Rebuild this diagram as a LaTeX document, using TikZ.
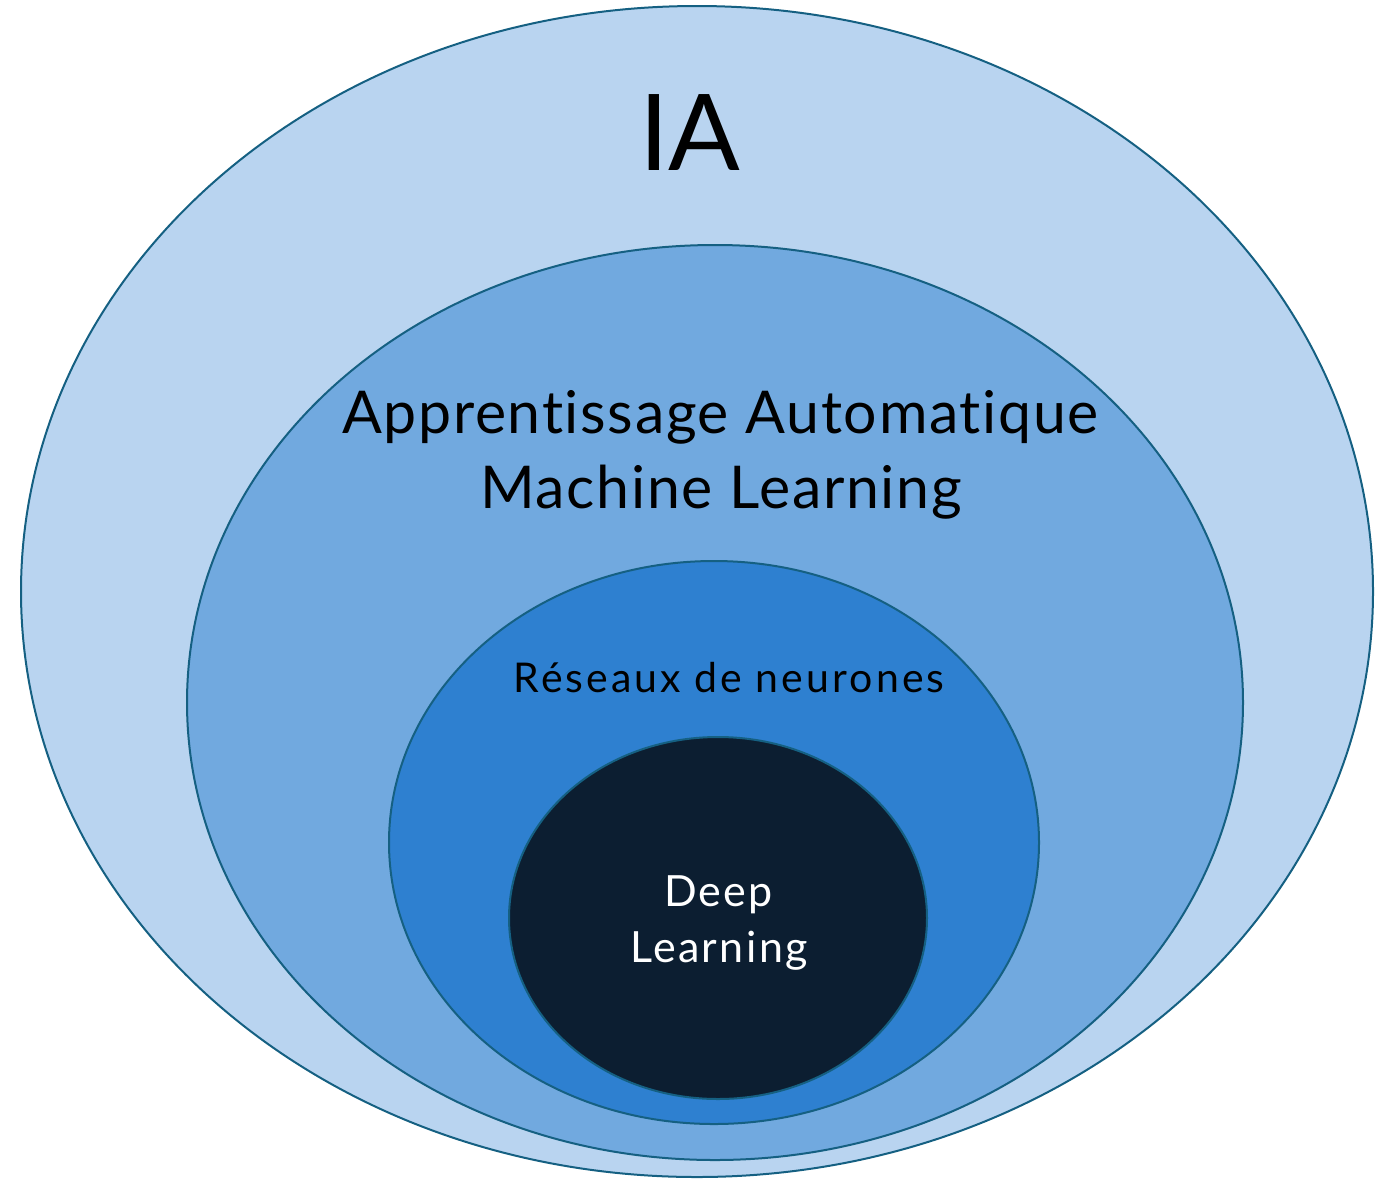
\documentclass[tikz,border=0pt]{standalone}
\usepackage{fontspec}
\setmainfont{Lato}[Ligatures=NoCommon]
\usetikzlibrary{shapes.geometric}
\definecolor{rim}{HTML}{156082}
\definecolor{aiFill}{HTML}{B9D4F0}
\definecolor{mlFill}{HTML}{71A9DF}
\definecolor{nnFill}{HTML}{2E80D0}
\definecolor{dlFill}{HTML}{0C1E31}
\tikzset{
  field/.style={ellipse, draw=rim, line width=2pt, inner sep=0pt},
  lbl/.style={anchor=base, inner sep=0pt, text=black},
}
\begin{document}
\begin{tikzpicture}[x=1pt,y=-1pt]
\useasboundingbox (0,0) rectangle (1375,1179);
% nested fields, outermost first
\node[field, fill=aiFill, minimum width=1352pt, minimum height=1171pt] (ai) at (697,591.5) {};
\node[field, fill=mlFill, minimum width=1056pt, minimum height=915pt] (ml) at (715,702.5) {};
\node[field, fill=nnFill, minimum width=650pt, minimum height=563pt] (nn) at (714,842.5) {};
\node[field, fill=dlFill, minimum width=418pt, minimum height=362pt] (dl) at (718,918) {};
% labels
\node[lbl, font=\fontsize{106}{120}\selectfont] (tIA) at (690,170) {IA};
\node[lbl, font=\fontsize{59}{70}\selectfont\addfontfeature{LetterSpace=2.8}] (tML1) at (720.5,433) {Apprentissage Automatique};
\node[lbl, font=\fontsize{59}{70}\selectfont\addfontfeature{LetterSpace=2.8}] (tML2) at (721,508) {Machine Learning};
\node[lbl, font=\fontsize{41}{48}\selectfont\addfontfeature{LetterSpace=7.5}] (tNN) at (729,692.5) {Réseaux de neurones};
\node[lbl, font=\fontsize{43}{50}\selectfont\addfontfeature{LetterSpace=5.5}, text=white] (tDL1) at (718.5,906) {Deep};
\node[lbl, font=\fontsize{43}{50}\selectfont\addfontfeature{LetterSpace=5.5}, text=white] (tDL2) at (719,962) {Learning};
\end{tikzpicture}
\end{document}
